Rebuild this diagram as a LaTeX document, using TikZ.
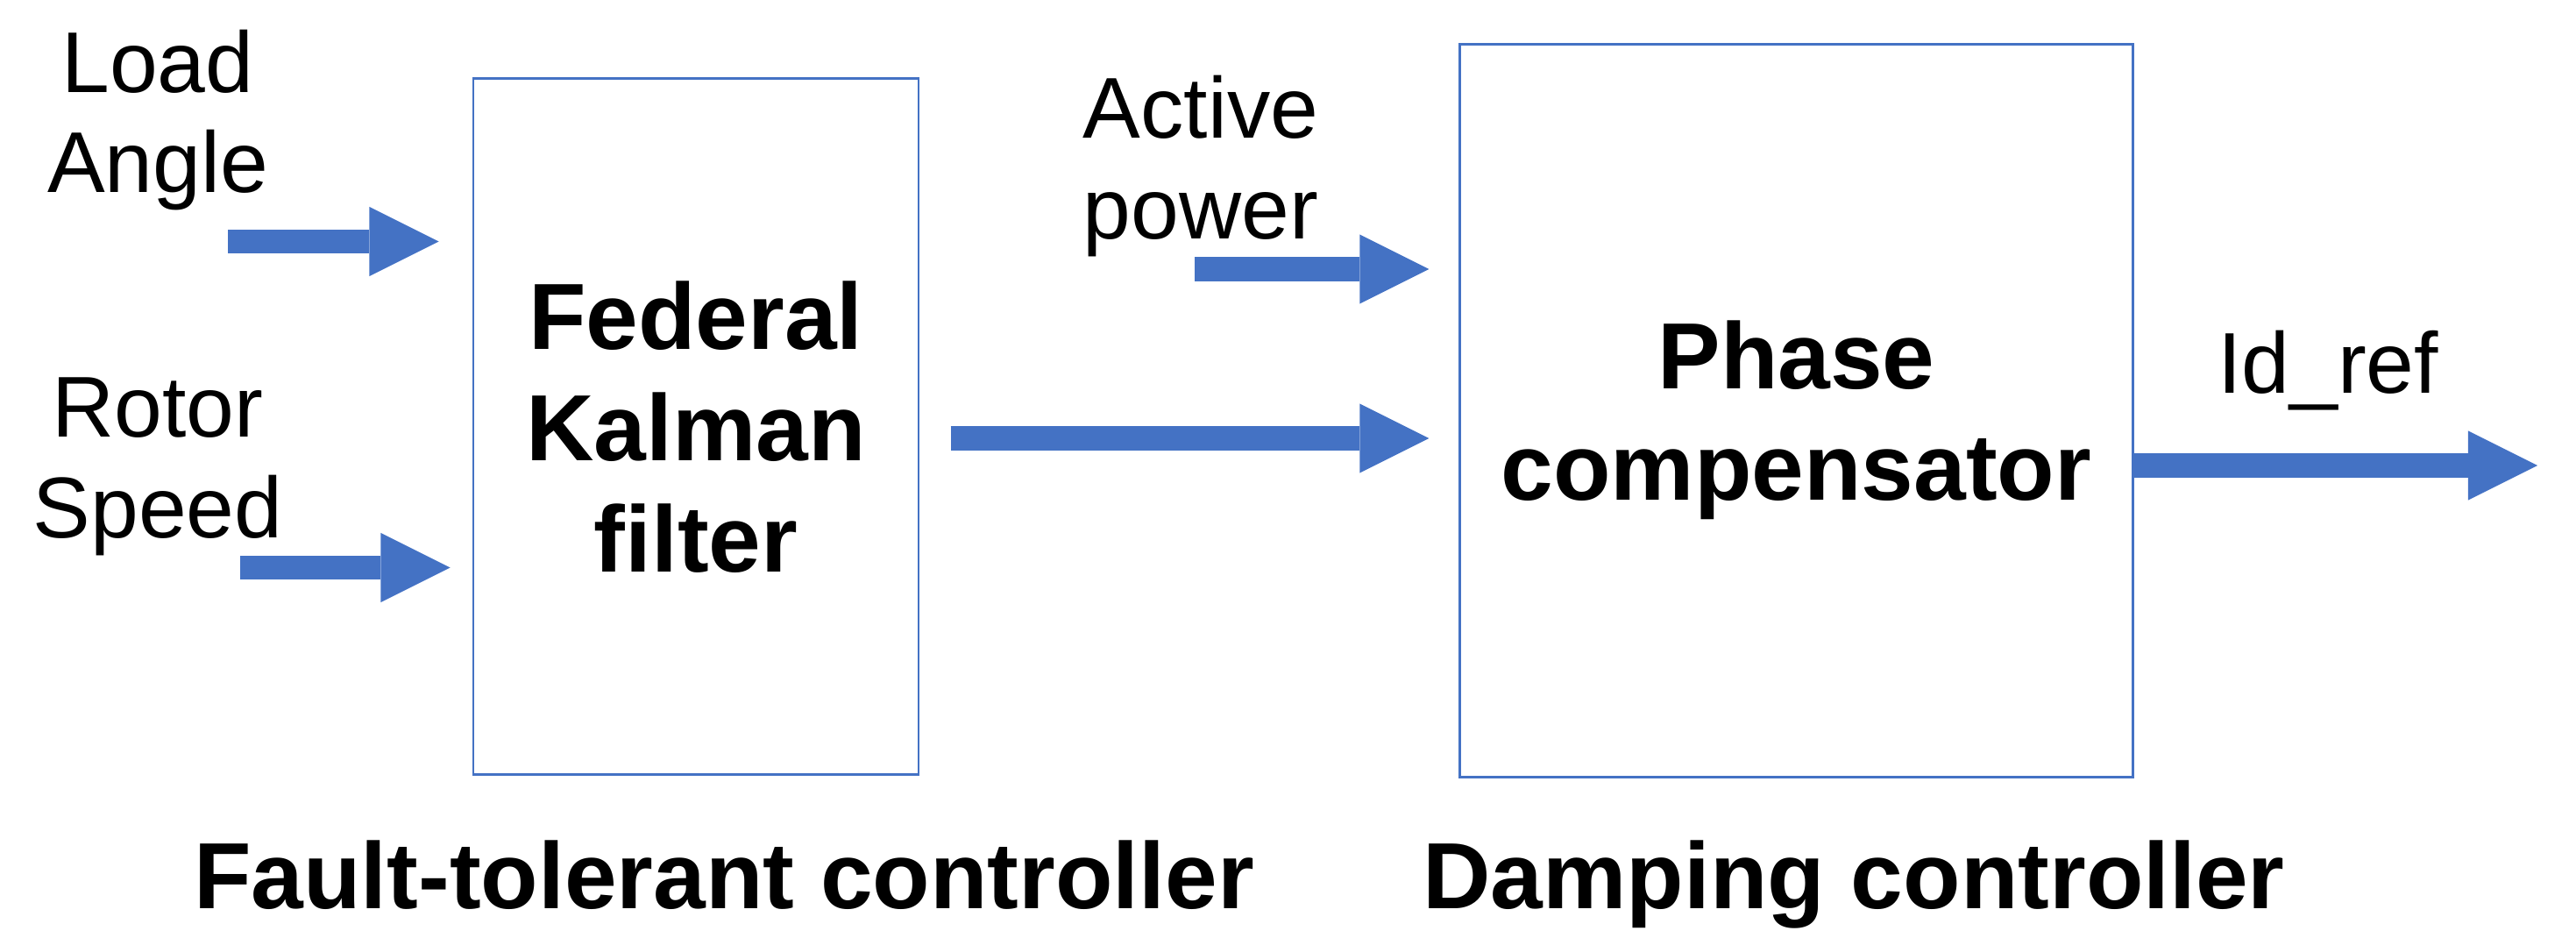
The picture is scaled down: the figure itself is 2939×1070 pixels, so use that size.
\documentclass[tikz,border=0pt]{standalone}
\usepackage{fontspec}
\setmainfont{Liberation Sans}
\usepackage{tikz}
\usetikzlibrary{arrows.meta,positioning,calc}
\definecolor{myblue}{RGB}{68,114,196}

\begin{document}
\begin{tikzpicture}[
  x=0.01cm, y=-0.01cm,
  mybox/.style={
    draw=myblue,
    line width=0.75pt,
    rectangle,
    inner sep=0pt,
    align=center,
    text depth=0pt,
    font=\fontsize{30.5}{36.1}\selectfont\bfseries
    },
  mylabel/.style={
    align=center,
    anchor=base,
    font=\fontsize{28}{32.5}\selectfont
    },
  mytitle/.style={
    anchor=base,
    font=\fontsize{30.5}{36.1}\selectfont\bfseries
    },
  myarrow/.style={
    draw=myblue,
    line width=0.27cm,
    -{Triangle[length=0.79cm,width=0.79cm,line width=0pt]}
    }
]
\useasboundingbox (0,0) rectangle (2939,1070);

% the two blocks
\node[mybox, minimum width=5.08cm, minimum height=7.93cm] (kalman) at (794,486.5) {Federal\\Kalman\\filter};
\node[mybox, minimum width=7.67cm, minimum height=8.35cm] (phase) at (2049.5,468.5) {Phase\\compensator};

% input and output labels
\node[mylabel] (angle) at (180,220) {Load\\Angle};
\node[mylabel] (speed) at (180,613) {Rotor\\Speed};
\node[mylabel] (power) at (1370,272) {Active\\power};
\node[mylabel] (idref) at (2656,448) {Id\_ref};

% controller names
\node[mytitle] (ftc) at (826,1036) {Fault-tolerant controller};
\node[mytitle] (dc) at (2115,1036) {Damping controller};

% arrows
\coordinate (in-angle) at (260,275.5);
\coordinate (in-speed) at (274,647.5);
\coordinate (in-power) at (1363,307);
\coordinate (out-ref) at (2895,531);

\draw[myarrow, shorten >=0.38cm] (in-angle) -- (in-angle -| kalman.west);
\draw[myarrow, shorten >=0.25cm] (in-speed) -- (in-speed -| kalman.west);
\draw[myarrow, shorten >=0.34cm] (in-power) -- (in-power -| phase.west);
\draw[myarrow, shorten <=0.35cm, shorten >=0.34cm] (kalman.east |- 0,500) -- (phase.west |- 0,500);
\draw[myarrow] (phase.east |- out-ref) -- (out-ref);
\end{tikzpicture}
\end{document}
